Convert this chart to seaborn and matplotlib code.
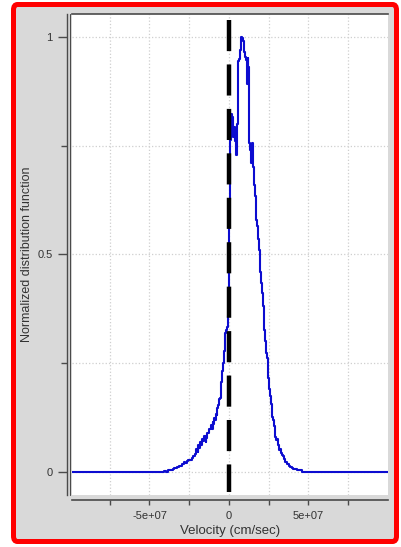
import numpy as np
import pandas as pd
import matplotlib
matplotlib.use("Agg")
import matplotlib.pyplot as plt
from matplotlib.lines import Line2D
from matplotlib.patches import FancyBboxPatch
import seaborn as sns

# ---- data (velocity in units of 1e7 cm/sec) ----
VEL_UNIT = 1e7
velocity = [
    -10.0, -4.2, -4.0, -3.9, -3.8, -3.7, -3.6, -3.5, -3.4, -3.3, -3.2, -3.1, -3.0,
    -2.9, -2.8, -2.7, -2.6, -2.5, -2.4, -2.3, -2.2, -2.1, -2.0, -1.95, -1.9, -1.85,
    -1.8, -1.75, -1.7, -1.6, -1.5, -1.45, -1.4, -1.3, -1.2, -1.1, -1.05, -1.0, -0.95,
    -0.9, -0.85, -0.8, -0.75, -0.7, -0.65, -0.6, -0.55, -0.5, -0.45, -0.4, -0.35,
    -0.3, -0.25, -0.2, -0.15, -0.1, -0.05, 0.0, 0.05, 0.1, 0.15, 0.2, 0.25, 0.3,
    0.35, 0.4, 0.45, 0.5, 0.55, 0.6, 0.65, 0.7, 0.75, 0.8, 0.85, 0.9, 0.95, 1.0,
    1.05, 1.1, 1.15, 1.2, 1.25, 1.3, 1.35, 1.4, 1.45, 1.5, 1.55, 1.6, 1.65, 1.7,
    1.75, 1.8, 1.85, 1.9, 1.95, 2.0, 2.05, 2.1, 2.15, 2.2, 2.25, 2.3, 2.35, 2.4,
    2.45, 2.5, 2.55, 2.6, 2.65, 2.7, 2.75, 2.8, 2.85, 2.9, 2.95, 3.0, 3.05, 3.1,
    3.15, 3.2, 3.25, 3.3, 3.35, 3.4, 3.45, 3.5, 3.6, 3.7, 3.8, 3.9, 4.0, 4.1, 4.2,
    4.3, 4.5, 4.7, 10.0,
]
distribution = [
    0.0, 0.0, 0.001, 0.0, 0.003, 0.004, 0.003, 0.006, 0.008, 0.007, 0.011, 0.013, 0.012,
    0.017, 0.021, 0.020, 0.024, 0.027, 0.026, 0.031, 0.036, 0.040, 0.052, 0.044, 0.061, 0.055,
    0.068, 0.062, 0.074, 0.071, 0.082, 0.069, 0.078, 0.089, 0.098, 0.107, 0.098, 0.115, 0.110,
    0.124, 0.119, 0.133, 0.130, 0.146, 0.152, 0.166, 0.170, 0.196, 0.205, 0.232, 0.250,
    0.278, 0.303, 0.318, 0.326, 0.333, 0.357, 0.434, 0.625, 0.763, 0.824, 0.817, 0.810, 0.770,
    0.794, 0.760, 0.729, 0.786, 0.800, 0.944, 0.950, 0.962, 0.970, 1.000, 0.997, 0.990, 0.985, 0.966,
    0.955, 0.947, 0.892, 0.952, 0.930, 0.756, 0.740, 0.710, 0.730, 0.756, 0.701, 0.660, 0.633, 0.610,
    0.580, 0.564, 0.535, 0.509, 0.490, 0.460, 0.434, 0.410, 0.380, 0.355, 0.326, 0.300, 0.272, 0.262,
    0.249, 0.215, 0.190, 0.173, 0.155, 0.140, 0.125, 0.119, 0.105, 0.090, 0.080, 0.073, 0.075, 0.062,
    0.055, 0.050, 0.052, 0.043, 0.038, 0.035, 0.036, 0.029, 0.023, 0.018, 0.012, 0.010, 0.007, 0.0055, 0.005,
    0.004, 0.003, 0.0, 0.0,
]
x_major_ticks = [-5e7, 0, 5e7]
x_major_labels = ["-5e+07", "0", "5e+07"]
x_minor_ticks = [-7.5e7, -2.5e7, 2.5e7, 7.5e7]
y_major_ticks = [0, 0.5, 1]
y_major_labels = ["0", "0.5", "1"]
y_minor_ticks = [0.25, 0.75]
ref_x = 0.0
ref_y = [1.04, -0.047]

df = pd.DataFrame({"v": np.array(velocity) * VEL_UNIT, "f": distribution})

# ---- figure ----
W, H, DPI = 401, 547, 100
sns.set_theme(style="white")
plt.rcParams["font.family"] = ["Liberation Sans", "DejaVu Sans"]
fig = plt.figure(figsize=(W / DPI, H / DPI), dpi=DPI, facecolor="white")

BG = "#d9d9d9"
TXT = "#333333"
SP = "#4a4a4a"
# red rounded frame with gray panel
frame = FancyBboxPatch((13.5 / W, 5.5 / H), (396.5 - 13.5) / W, (542.5 - 5.5) / H,
                       boxstyle="round,pad=0,rounding_size=0.01",
                       transform=fig.transFigure, facecolor=BG, edgecolor="#ff0000",
                       linewidth=3.6, zorder=-10)
fig.add_artist(frame)

left, right, top, bottom = 72, 388, 14, 495
ax = fig.add_axes([left / W, 1 - bottom / H, (right - left) / W, (bottom - top) / H])
ax.set_zorder(1)
ax.set_facecolor("white")

sns.lineplot(data=df, x="v", y="f", ax=ax, color="#0c0cd0", linewidth=1.5,
             drawstyle="steps-mid", estimator=None, sort=True, zorder=3)
ax.plot([ref_x, ref_x], ref_y, color="black", linewidth=3.2,
        dashes=(7, 3), zorder=4, dash_capstyle="butt")

ax.set_xlim(-9.87e7, 1.0e8)
ax.set_ylim(-0.054, 1.053)

ax.set_xticks(x_major_ticks)
ax.set_xticklabels(x_major_labels)
ax.set_xticks(x_minor_ticks, minor=True)
ax.set_yticks(y_major_ticks)
ax.set_yticklabels(y_major_labels)
ax.set_yticks(y_minor_ticks, minor=True)

ax.grid(True, which="both", color="#cfcfcf", linestyle=":", linewidth=0.9, zorder=1)
ax.set_axisbelow(True)

ax.spines["right"].set_visible(False)
ax.spines["top"].set_color(SP)
ax.spines["top"].set_linewidth(1.2)
ax.spines["bottom"].set_position(("outward", 3.6))
ax.spines["bottom"].set_color(SP)
ax.spines["bottom"].set_linewidth(1.2)
ax.spines["left"].set_position(("outward", 3.6))
ax.spines["left"].set_color(SP)
ax.spines["left"].set_linewidth(1.0)
# second line of the double left axis
fig.add_artist(Line2D([69.5 / W, 69.5 / W], [1 - bottom / H, 1 - top / H],
                      transform=fig.transFigure, color=SP, linewidth=0.8, zorder=5))

ax.tick_params(axis="x", which="both", direction="out", length=3.6, width=1.0,
               color=SP, labelsize=8, labelcolor=TXT, pad=4, bottom=True)
ax.tick_params(axis="y", which="major", direction="out", length=6.5, width=1.0,
               color=SP, labelsize=8, labelcolor=TXT, pad=4, left=True)
ax.tick_params(axis="y", which="minor", direction="out", length=4.0, width=1.0,
               color=SP, left=True)

ax.set_xlabel("Velocity (cm/sec)", fontsize=9.5, color=TXT, labelpad=3)
ax.set_ylabel("Normalized distribution function", fontsize=9.0, color=TXT, labelpad=3)

fig.savefig("out.png", dpi=DPI, facecolor="white")
